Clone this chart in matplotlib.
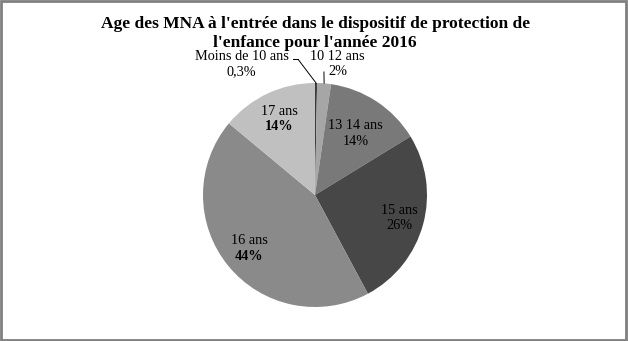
import numpy as np
import matplotlib
matplotlib.use('Agg')
import matplotlib.pyplot as plt

# Data
labels = ["Moins de 10 ans", "10 12 ans", "13 14 ans", "15 ans", "16 ans", "17 ans"]
values = [0.3, 2, 14, 26, 44, 14]
pct_labels = ["0,3%", "2%", "14%", "26%", "44%", "14%"]

COLOURS = ['#3c3c3c', '#a6a6a6', '#797979', '#474747', '#8a8a8a', '#c0c0c0']
label_r = [None, None, 0.66, 0.78, 0.76, 0.75]
pct_bold = [False, False, False, False, True, True]

plt.rcParams['font.family'] = ['Liberation Serif', 'DejaVu Serif']
FS = 10.3

fig = plt.figure(figsize=(6.28, 3.41), dpi=100)
ax = fig.add_axes([203 / 628, 34 / 341, 224 / 628, 224 / 341])

wedges, _ = ax.pie(values, startangle=90, counterclock=False, colors=COLOURS,
                   radius=1, wedgeprops=dict(linewidth=0))
ax.set_xlim(-1, 1)
ax.set_ylim(-1, 1)
ax.set_aspect('equal')

for i, w in enumerate(wedges):
    mid = np.deg2rad((w.theta1 + w.theta2) / 2)
    if label_r[i] is not None:
        x, y = label_r[i] * np.cos(mid), label_r[i] * np.sin(mid)
        ax.text(x, y + 0.07, labels[i], ha='center', va='center', fontsize=FS)
        ax.text(x, y - 0.07, pct_labels[i], ha='center', va='center', fontsize=FS,
                fontweight='bold' if pct_bold[i] else 'normal')

# outside labels with leader lines
outside = {0: (-0.655, 1.17), 1: (0.2, 1.17)}
for i, (tx, ty) in outside.items():
    ax.text(tx, ty + 0.07, labels[i], ha='center', va='center', fontsize=FS)
    ax.text(tx, ty - 0.07, pct_labels[i], ha='center', va='center', fontsize=FS)

w = wedges[0]
mid = np.deg2rad((w.theta1 + w.theta2) / 2)
ax.annotate("", xy=(np.cos(mid), np.sin(mid)), xytext=(-0.15, 1.21),
            arrowprops=dict(arrowstyle='-', color='black', lw=0.7,
                            shrinkA=0, shrinkB=0))
ax.plot([-0.2, -0.15], [1.21, 1.21], color='black', lw=0.7, clip_on=False)
w = wedges[1]
mid = np.deg2rad((w.theta1 + w.theta2) / 2)
ax.annotate("", xy=(np.cos(mid), np.sin(mid)), xytext=(0.08, 1.1),
            arrowprops=dict(arrowstyle='-', color='black', lw=0.7, shrinkA=0, shrinkB=0))

fig.text(0.502, 0.952, "Age des MNA à l'entrée dans le dispositif de protection de\nl'enfance pour l'année 2016",
         ha='center', va='top', fontsize=12.5, fontweight='bold', linespacing=1.2)

# outer frame
fig.patches.append(plt.Rectangle((0.001, 0.002), 0.996, 0.995, transform=fig.transFigure,
                                 fill=False, edgecolor='#808080', lw=2))

plt.savefig("out.png", dpi=100)
